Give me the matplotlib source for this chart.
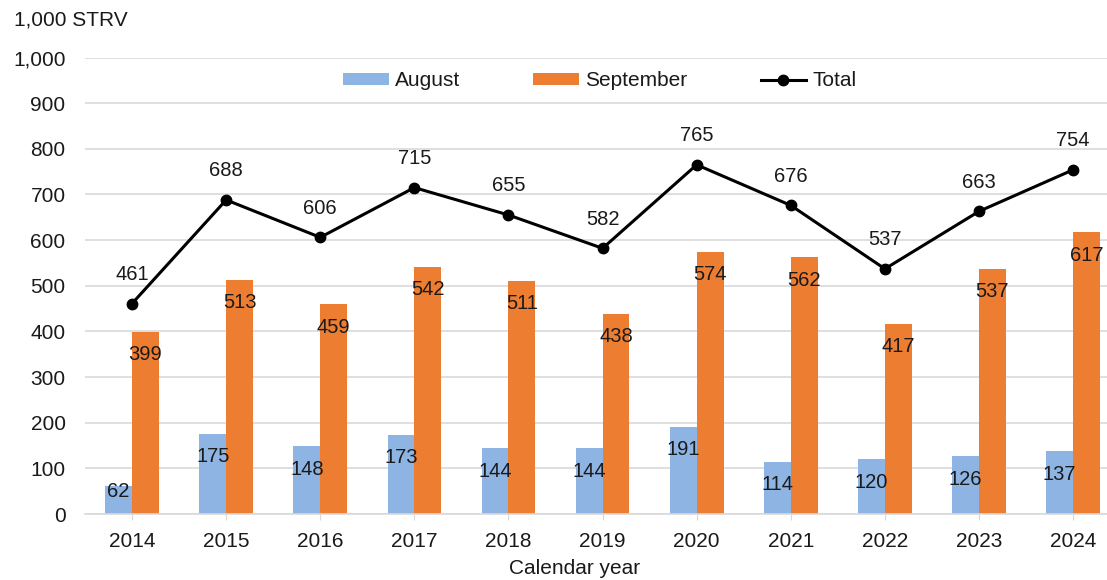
import matplotlib.pyplot as plt
import numpy as np

plt.rcParams['font.family'] = ['Liberation Sans', 'DejaVu Sans']

years = ['2014', '2015', '2016', '2017', '2018', '2019', '2020', '2021', '2022', '2023', '2024']
august = [62, 175, 148, 173, 144, 144, 191, 114, 120, 126, 137]
september = [399, 513, 459, 542, 511, 438, 574, 562, 417, 537, 617]
total = [461, 688, 606, 715, 655, 582, 765, 676, 537, 663, 754]

c_aug = '#8EB4E3'
c_sep = '#ED7D31'
grid_c = '#D9D9D9'

fig = plt.figure(figsize=(11.07, 5.8), dpi=100)
ax = fig.add_axes([85/1107, 66/580, 1 - 85/1107, (514 - 57.5)/580])

x = np.arange(len(years))
w = 0.285
b1 = ax.bar(x - w/2, august, w, color=c_aug, label='August', zorder=2)
b2 = ax.bar(x + w/2, september, w, color=c_sep, label='September', zorder=2)
l1, = ax.plot(x, total, color='black', lw=2.2, marker='o', ms=7.5, label='Total', zorder=3)

# labels
for i in range(len(years)):
    ax.text(x[i] - w/2, max(august[i] - 50, 50), str(august[i]), ha='center', va='center',
            fontsize=14.5, color='#1a1a1a', zorder=4)
    ax.text(x[i] + w/2, max(september[i] - 50, 50), str(september[i]), ha='center', va='center',
            fontsize=14.5, color='#1a1a1a', zorder=4)
    ax.annotate(str(total[i]), (x[i], total[i]), xytext=(0, 21), textcoords='offset points',
                ha='center', va='center', fontsize=14.5, color='#1a1a1a', zorder=4)

ax.set_xlim(-0.5, 10.36)
ax.set_ylim(0, 1000)
ax.set_yticks(range(0, 1001, 100))
ax.set_yticklabels([f'{v:,}' for v in range(0, 1001, 100)])
ax.set_xticks(x)
ax.set_xticklabels(years)
ax.yaxis.grid(True, color=grid_c, lw=1.2, zorder=0)
ax.set_axisbelow(True)
for s in ['top', 'right', 'left']:
    ax.spines[s].set_visible(False)
ax.spines['bottom'].set_color(grid_c)
ax.spines['bottom'].set_linewidth(1.2)
ax.tick_params(axis='y', length=0, pad=14, labelsize=15, labelcolor='#1a1a1a')
ax.tick_params(axis='x', length=4, color=grid_c, pad=9, labelsize=15, labelcolor='#1a1a1a')

fig.text(14/1107, 1 - 20/580, '1,000 STRV', fontsize=15, va='center', ha='left', color='#1a1a1a')
fig.text(575/1107, 1 - 569/580, 'Calendar year', fontsize=15, va='center', ha='center', color='#1a1a1a')

leg = ax.legend([b1, b2, l1], ['August', 'September', 'Total'],
                loc='center', bbox_to_anchor=(600/1107, 1 - 81/580), bbox_transform=fig.transFigure,
                ncol=3, frameon=False, fontsize=15, handlelength=2.2, handleheight=0.5,
                handletextpad=0.3, columnspacing=3.5)
for t in leg.get_texts():
    t.set_color('#1a1a1a')

fig.savefig('out.png', dpi=100)
